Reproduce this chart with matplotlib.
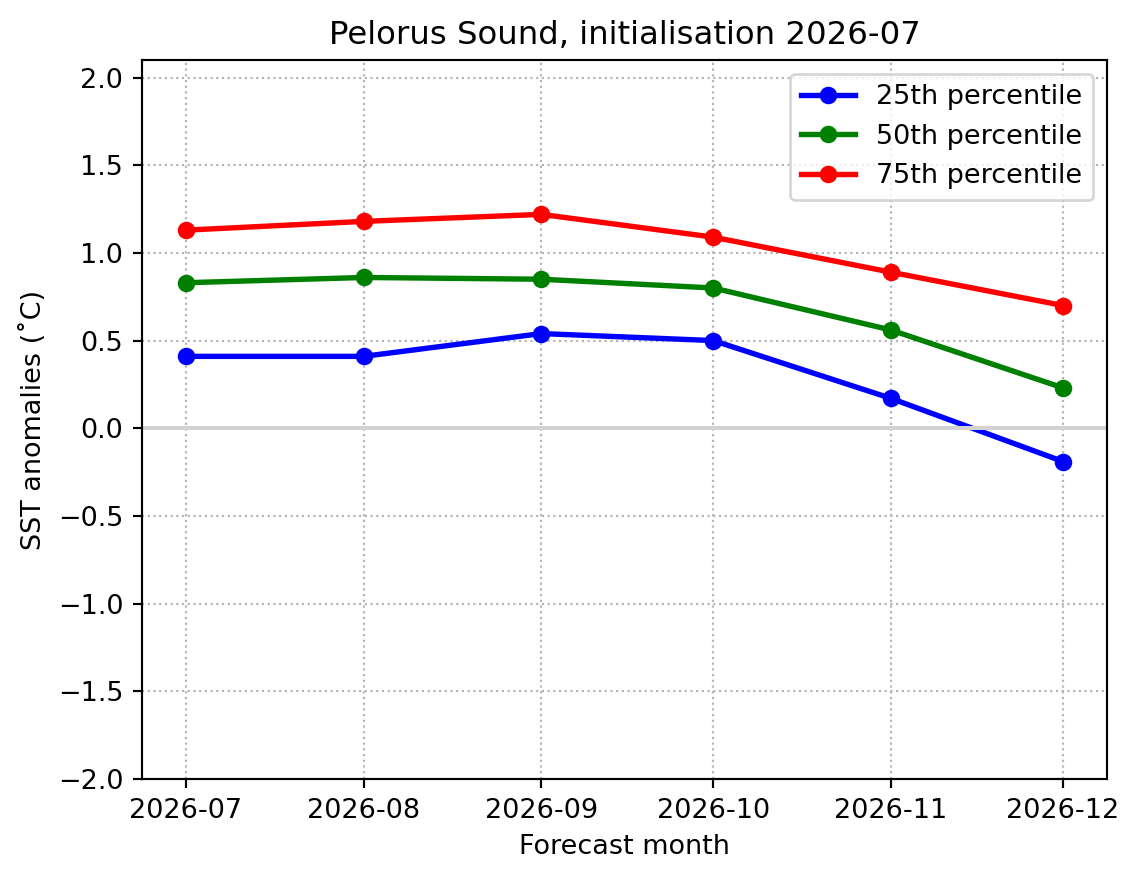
import numpy as np
import pandas as pd
import matplotlib
matplotlib.use('Agg')
import matplotlib.pyplot as plt
import matplotlib.dates as mdates

# forecast months and percentile values
months = ['2026-07', '2026-08', '2026-09', '2026-10', '2026-11', '2026-12']
p25 = [0.41, 0.41, 0.54, 0.50, 0.17, -0.19]
p50 = [0.83, 0.86, 0.85, 0.80, 0.56, 0.23]
p75 = [1.13, 1.18, 1.22, 1.09, 0.89, 0.70]

dates = pd.to_datetime(months, format='%Y-%m')

DPI = 194
fig, ax = plt.subplots(figsize=(1140 / DPI, 884 / DPI), dpi=DPI)
fig.subplots_adjust(left=0.1246, right=0.971, top=0.932, bottom=0.119)

ax.plot(dates, p25, '-o', color='blue', lw=2, ms=5.5, label='25th percentile')
ax.plot(dates, p50, '-o', color='green', lw=2, ms=5.5, label='50th percentile')
ax.plot(dates, p75, '-o', color='red', lw=2, ms=5.5, label='75th percentile')
ax.axhline(0, color='lightgray', lw=1.5, zorder=2.1)

ax.set_ylim(-2, 2.1)
ax.set_xticks(dates)
ax.xaxis.set_major_formatter(mdates.DateFormatter('%Y-%m'))
ax.grid(True, linestyle=':', color='0.7')
ax.legend(loc='upper right')
ax.set_title('Pelorus Sound, initialisation 2026-07')
ax.set_xlabel('Forecast month')
ax.set_ylabel('SST anomalies (˚C)')

fig.savefig('out.png', dpi=DPI)
